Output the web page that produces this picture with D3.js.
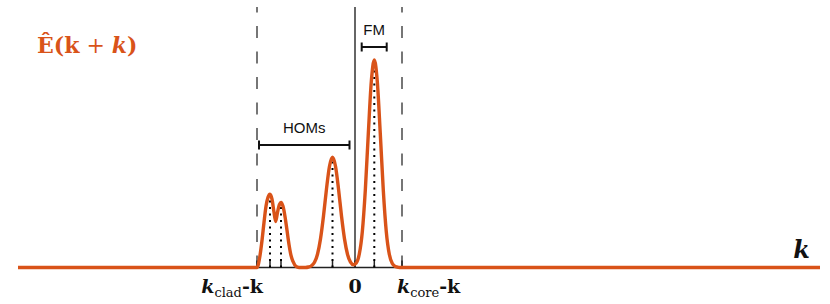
<!DOCTYPE html>
<html>
<head>
<meta charset="utf-8">
<script src="https://cdn.jsdelivr.net/npm/d3@7"></script>
<style>
  body { margin: 0; background: #fff; }
  svg text.sans { font-family: "Liberation Sans", Arial, sans-serif; }
  svg text.math { font-family: "DejaVu Serif", serif; font-weight: bold; }
</style>
</head>
<body>
<svg id="chart"></svg>
<script>
// field amplitude |E(k + k)| sampled along k (0 = propagation constant k)
const curveK = [-33.7, -9.8, -9.5, -9.3, -9.1, -8.9, -8.7, -8.5, -8.3, -8.1, -7.93, -7.75, -7.55, -7.4,
  -7.2, -7.0, -6.8, -6.6, -6.4, -6.2, -5.9, -5.6, -4.95, -4.65, -4.35, -4.05, -3.75, -3.45, -3.15,
  -2.85, -2.55, -2.25, -1.95, -1.65, -1.35, -1.05, -0.75, -0.45, -0.15, 0.13, 0.43, 0.73, 1.03,
  1.33, 1.63, 1.93, 2.23, 2.53, 2.83, 3.13, 3.43, 3.73, 4.03, 4.33, 4.6, 46.5];
const curveE = [0, 0, 0.058, 0.13, 0.217, 0.295, 0.338, 0.353, 0.329, 0.266, 0.222, 0.266, 0.304, 0.314,
  0.295, 0.246, 0.179, 0.111, 0.058, 0.029, 0.005, 0, 0, 0.0024, 0.0085, 0.025, 0.064, 0.138, 0.248,
  0.379, 0.488, 0.531, 0.488, 0.379, 0.248, 0.138, 0.064, 0.026, 0.0135, 0.022, 0.065, 0.172, 0.372,
  0.644, 0.896, 1, 0.896, 0.644, 0.372, 0.172, 0.064, 0.019, 0.0046, 0.0009, 0, 0];

// mode peaks
const peakK = [-8.5, -7.4, -2.25, 1.93];
const peakE = [0.353, 0.314, 0.531, 1];

// band edges
const kClad = -9.8, kCore = 4.7;

const width = 830, height = 304;
const x = d3.scaleLinear().domain([-33.7, 46.5]).range([18, 820]);
const y = d3.scaleLinear().domain([0, 1]).range([267.5, 60]);
const orange = "#d95319";

const svg = d3.select("#chart").attr("width", width).attr("height", height);

// dashed band edges
svg.selectAll(".edge")
  .data([kClad, kCore])
  .enter().append("line")
  .attr("class", "edge")
  .attr("x1", d => x(d)).attr("x2", d => x(d))
  .attr("y1", y(0)).attr("y2", 7)
  .attr("stroke", "#707070")
  .attr("stroke-width", 1.9)
  .attr("stroke-dasharray", "12,13.5");

// k = 0 axis
svg.append("line")
  .attr("x1", x(0)).attr("x2", x(0))
  .attr("y1", y(0)).attr("y2", 7)
  .attr("stroke", "#333")
  .attr("stroke-width", 1.5);

// baseline axis between edges
svg.append("line")
  .attr("x1", x(kClad)).attr("x2", x(kCore))
  .attr("y1", y(0)).attr("y2", y(0))
  .attr("stroke", "#222")
  .attr("stroke-width", 1.5);

// ticks
svg.selectAll(".tick")
  .data([kClad, ...peakK, 0, kCore])
  .enter().append("line")
  .attr("class", "tick")
  .attr("x1", d => x(d)).attr("x2", d => x(d))
  .attr("y1", y(0)).attr("y2", y(0) - 7)
  .attr("stroke", "#222")
  .attr("stroke-width", 1.5);

// dotted peak markers
svg.selectAll(".peak")
  .data(peakK)
  .enter().append("line")
  .attr("class", "peak")
  .attr("x1", d => x(d)).attr("x2", d => x(d))
  .attr("y1", y(0))
  .attr("y2", (d, i) => y(peakE[i]))
  .attr("stroke", "#000")
  .attr("stroke-width", 2)
  .attr("stroke-dasharray", "2,4.5");

// the curve
const line = d3.line()
  .x((d, i) => x(curveK[i]))
  .y(d => y(d))
  .curve(d3.curveMonotoneX);

svg.append("path")
  .datum(curveE)
  .attr("d", line)
  .attr("fill", "none")
  .attr("stroke", orange)
  .attr("stroke-width", 3.4)
  .attr("stroke-linejoin", "round");

// brackets
function bracket(k0, k1, yy, label) {
  const g = svg.append("g");
  g.append("line").attr("x1", x(k0)).attr("x2", x(k1)).attr("y1", yy).attr("y2", yy)
    .attr("stroke", "#111").attr("stroke-width", 2);
  [k0, k1].forEach(k => g.append("line")
    .attr("x1", x(k)).attr("x2", x(k)).attr("y1", yy - 4.5).attr("y2", yy + 4.5)
    .attr("stroke", "#111").attr("stroke-width", 2));
  g.append("text").attr("class", "sans")
    .attr("x", (x(k0) + x(k1)) / 2).attr("y", yy - 12)
    .attr("text-anchor", "middle")
    .attr("font-size", 15)
    .attr("fill", "#111")
    .text(label);
}
bracket(-9.6, -0.55, 145, "HOMs");
bracket(0.67, 3.17, 47, "FM");

// title
const title = svg.append("text").attr("class", "math")
  .attr("x", 37).attr("y", 53)
  .attr("font-size", 22)
  .attr("fill", orange);
title.append("tspan").text("Ê(k");
title.append("tspan").attr("font-weight", "normal").text("\u00a0+\u00a0");
title.append("tspan").attr("font-style", "italic").text("k");
title.append("tspan").text(")");

// axis label
svg.append("text").attr("class", "math")
  .attr("x", 810).attr("y", 258)
  .attr("text-anchor", "end")
  .attr("font-size", 24)
  .attr("font-style", "italic")
  .attr("fill", "#111")
  .text("k");

// bottom labels
const lblY = 293;
const clad = svg.append("text").attr("class", "math")
  .attr("x", x(kClad) + 6).attr("y", lblY)
  .attr("text-anchor", "end")
  .attr("font-size", 19)
  .attr("fill", "#111");
clad.append("tspan").attr("font-style", "italic").text("k");
clad.append("tspan").attr("font-size", 13).attr("font-weight", "normal").attr("dy", 4).text("clad");
clad.append("tspan").attr("dy", -4).text("-k");

svg.append("text").attr("class", "math")
  .attr("x", x(0)).attr("y", lblY)
  .attr("text-anchor", "middle")
  .attr("font-size", 19)
  .attr("fill", "#111")
  .text("0");

const core = svg.append("text").attr("class", "math")
  .attr("x", x(kCore) - 5).attr("y", lblY)
  .attr("font-size", 19)
  .attr("fill", "#111");
core.append("tspan").attr("font-style", "italic").text("k");
core.append("tspan").attr("font-size", 13).attr("font-weight", "normal").attr("dy", 4).text("core");
core.append("tspan").attr("dy", -4).text("-k");
</script>
</body>
</html>
